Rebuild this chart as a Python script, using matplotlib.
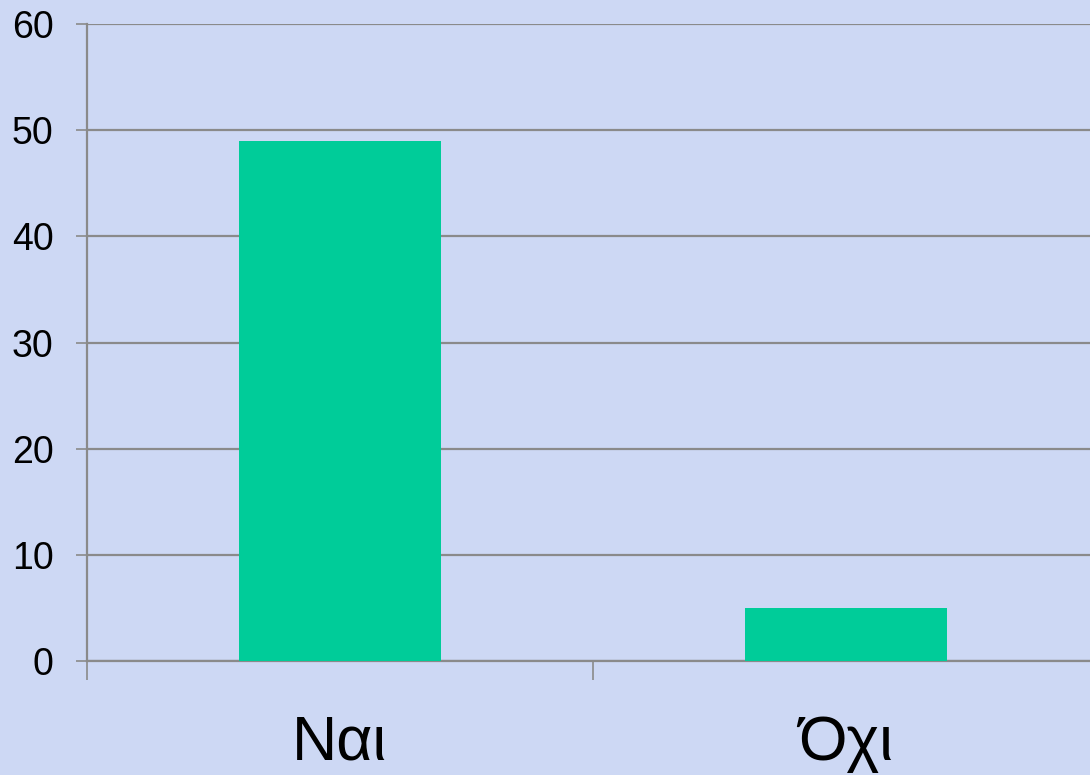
import matplotlib.pyplot as plt

# data
categories = ['Ναι', 'Όχι']
values = [49, 5]
y_ticks = [0, 10, 20, 30, 40, 50, 60]

BG = '#cdd8f4'
BAR = '#00cc99'
GRID = '#8a8a8a'

plt.rcParams['font.family'] = ['Liberation Sans', 'DejaVu Sans']

fig = plt.figure(figsize=(10.9, 7.75), dpi=100, facecolor=BG)
ax = fig.add_axes([0.0798, 0.1471, 0.9284, 0.8219])
ax.set_facecolor(BG)

x = list(range(len(categories)))
ax.bar(x, values, width=0.4, color=BAR, zorder=3)

ax.set_xlim(-0.5, 1.5)
ax.set_ylim(0, 60)
ax.set_yticks(y_ticks)
ax.yaxis.grid(True, color=GRID, linewidth=1.6, zorder=0)

# category labels between boundary ticks
ax.set_xticks([-0.5, 0.5, 1.5])
ax.set_xticklabels([])
ax.set_xticks(x, minor=True)
ax.set_xticklabels(categories, minor=True, fontsize=45)
ax.tick_params(axis='x', which='major', length=14, width=1.2, color=GRID,
               direction='out')
ax.tick_params(axis='x', which='minor', length=0, pad=38)
ax.tick_params(axis='y', length=8, width=1.2, color=GRID, labelsize=27,
               pad=16)

for side in ['top', 'right']:
    ax.spines[side].set_visible(False)
ax.spines['left'].set_color(GRID)
ax.spines['left'].set_linewidth(1.6)
ax.spines['bottom'].set_color(GRID)
ax.spines['bottom'].set_linewidth(1.6)

fig.savefig('out.png', dpi=100, facecolor=BG)
